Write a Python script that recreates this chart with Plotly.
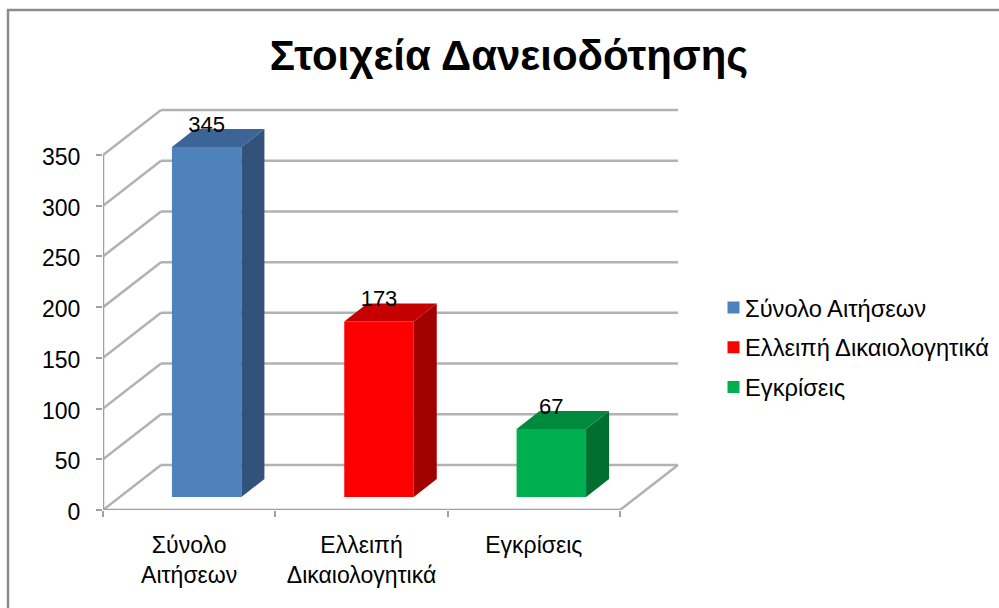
import plotly.graph_objects as go

# ---- data ----
categories = ["Σύνολο<br>Αιτήσεων", "Ελλειπή<br>Δικαιολογητικά", "Εγκρίσεις"]
series_names = ["Σύνολο Αιτήσεων", "Ελλειπή Δικαιολογητικά", "Εγκρίσεις"]
values = [345, 173, 67]
y_ticks = [0, 50, 100, 150, 200, 250, 300, 350]
chart_title = "Στοιχεία Δανειοδότησης"

# ---- styles ----
front_colors = ["#4F81BD", "#FF0000", "#00B050"]
top_colors = ["#3C6496", "#C40000", "#008A3E"]
side_colors = ["#33527A", "#A00000", "#006F30"]
FONT = "Liberation Sans, Arial, sans-serif"
GRID = "#B2B2B2"
AXIS = "#A0A0A0"

# ---- geometry (pixels -> axis units) ----
W, H = 999, 608
PX_LEFT, PX_ZERO = 103, 510
PX_PER_CAT = 172.33
PX_PER_UNIT = 355 / 350
PX_RIGHT, PX_TOP = 700, 100
sx = lambda px: px / PX_PER_CAT
sy = lambda px: px / PX_PER_UNIT

wall_dx, wall_dy = sx(58), sy(45)      # depth of the chart floor
bar_dx, bar_dy = sx(23), sy(18)        # depth of each bar
bar_w = sx(69.5)
bar_shift = sx(17.5)                   # bars stand partway into the floor
base = sy(13)                          # bar front edge above the axis
n = len(categories)
centers = [i + 0.5 + bar_shift for i in range(n)]

fig = go.Figure()

# Front faces
for i, (name, v) in enumerate(zip(series_names, values)):
    fig.add_trace(go.Bar(
        x=[centers[i]], y=[v], base=[base], width=[bar_w], name=name,
        legendgroup=name,
        marker=dict(color=front_colors[i], line=dict(width=0)),
        hoverinfo="name+y",
    ))

# Side and top faces
for i, v in enumerate(values):
    xl, xr = centers[i] - bar_w / 2, centers[i] + bar_w / 2
    yb, yt = base, base + v
    fig.add_trace(go.Scatter(
        x=[xr, xr + bar_dx, xr + bar_dx, xr, xr],
        y=[yb, yb + bar_dy, yt + bar_dy, yt, yb],
        fill="toself", fillcolor=side_colors[i], mode="lines",
        line=dict(width=0), showlegend=False, hoverinfo="skip"))
    fig.add_trace(go.Scatter(
        x=[xl, xl + bar_dx, xr + bar_dx, xr, xl],
        y=[yt, yt + bar_dy, yt + bar_dy, yt, yt],
        fill="toself", fillcolor=top_colors[i], mode="lines",
        line=dict(width=0), showlegend=False, hoverinfo="skip"))

# Data labels
fig.add_trace(go.Scatter(
    x=centers,
    y=[base + v + sy(21) for v in values],
    text=[str(v) for v in values], mode="text", textposition="middle center",
    textfont=dict(family=FONT, size=22, color="black"),
    showlegend=False, hoverinfo="skip"))

# Walls, gridlines, axis lines (drawn beneath the bars)
shapes = []
def seg(x0, y0, x1, y1, color=GRID, width=2.5):
    shapes.append(dict(type="line", xref="x", yref="y", x0=x0, y0=y0, x1=x1, y1=y1,
                       line=dict(color=color, width=width), layer="below"))

for t in y_ticks:
    seg(0, t, wall_dx, t + wall_dy)
    seg(wall_dx, t + wall_dy, n + wall_dx, t + wall_dy)
seg(n, 0, n + wall_dx, wall_dy)
seg(0, 0, 0, y_ticks[-1], AXIS, 2.5)
seg(0, 0, n, 0, AXIS, 2.5)

# Outer frame
shapes.append(dict(type="rect", xref="paper", yref="paper",
                   x0=(8 - PX_LEFT) / (PX_RIGHT - PX_LEFT),
                   x1=(1100 - PX_LEFT) / (PX_RIGHT - PX_LEFT),
                   y0=(PX_ZERO - 700) / (PX_ZERO - PX_TOP),
                   y1=(PX_ZERO - 10) / (PX_ZERO - PX_TOP),
                   line=dict(color="#8C8C8C", width=2.5), layer="below"))

fig.update_layout(
    width=W, height=H,
    margin=dict(l=PX_LEFT, r=W - PX_RIGHT, t=PX_TOP, b=H - PX_ZERO, pad=0,
                autoexpand=False),
    paper_bgcolor="white", plot_bgcolor="rgba(0,0,0,0)",
    font=dict(family=FONT, color="black", size=23),
    barmode="overlay",
    title=dict(text="<b>" + chart_title + "</b>", x=509 / W, xanchor="center",
               y=1 - 55 / H, yanchor="middle",
               font=dict(family=FONT, size=42, color="black")),
    shapes=shapes,
    xaxis=dict(range=[0, sx(PX_RIGHT - PX_LEFT)], showgrid=False, zeroline=False,
               showline=False, tickmode="array",
               tickvals=[i + 0.5 for i in range(n)], ticktext=categories,
               ticks="", ticklen=0, tickfont=dict(family=FONT, size=23),
               ticklabelstandoff=19,
               minor=dict(tickmode="array", tickvals=list(range(n + 1)), ticks="outside",
                          ticklen=6, tickwidth=2, tickcolor=AXIS, showgrid=False),
               fixedrange=True),
    yaxis=dict(range=[0, sy(PX_ZERO - PX_TOP)], showgrid=False, zeroline=False,
               showline=False, tickmode="array", tickvals=y_ticks,
               ticks="outside", ticklen=6, tickwidth=2, tickcolor=AXIS,
               tickfont=dict(family=FONT, size=23), ticklabelstandoff=11,
               ticklabelshift=2, fixedrange=True),
    legend=dict(x=(705 - PX_LEFT) / (PX_RIGHT - PX_LEFT), xanchor="left",
                y=(PX_ZERO - 285.5) / (PX_ZERO - PX_TOP), yanchor="top",
                font=dict(family=FONT, size=23.7), tracegroupgap=6,
                bgcolor="rgba(0,0,0,0)"),
)

post = """
document.body.style.margin = '0';
var gd = document.getElementById('{plot_id}');
function nudge() {
  document.querySelectorAll('.legendsymbols').forEach(function (g) {
    g.setAttribute('transform', 'translate(8.5,0)');
  });
}
nudge();
gd.on('plotly_afterplot', nudge);
setTimeout(nudge, 100);
"""
fig.write_html("out.html", post_script=post, config=dict(displayModeBar=False))
